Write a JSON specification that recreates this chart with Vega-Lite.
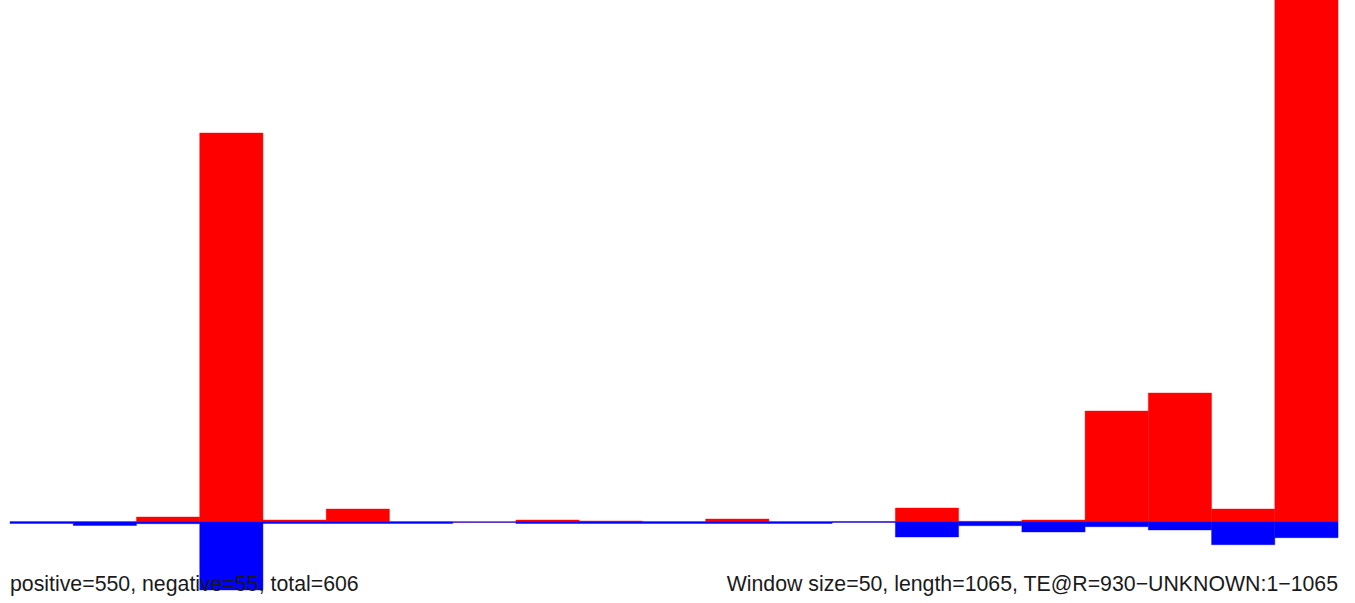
{
  "$schema": "https://vega.github.io/schema/vega-lite/v6.json",
  "width": 1355,
  "height": 603,
  "padding": 0,
  "autosize": {"type": "none"},
  "background": "white",
  "config": {"view": {"stroke": null}},
  "datasets": {
    "bars": [
      {"start": 0, "end": 50, "strand": "positive", "value": 0.3},
      {"start": 50, "end": 100, "strand": "positive", "value": 0.3},
      {"start": 100, "end": 150, "strand": "positive", "value": 5},
      {"start": 150, "end": 200, "strand": "positive", "value": 389},
      {"start": 200, "end": 250, "strand": "positive", "value": 2},
      {"start": 250, "end": 300, "strand": "positive", "value": 13},
      {"start": 300, "end": 350, "strand": "positive", "value": 0.3},
      {"start": 350, "end": 400, "strand": "positive", "value": 0},
      {"start": 400, "end": 450, "strand": "positive", "value": 2},
      {"start": 450, "end": 500, "strand": "positive", "value": 1},
      {"start": 500, "end": 550, "strand": "positive", "value": 0.3},
      {"start": 550, "end": 600, "strand": "positive", "value": 3},
      {"start": 600, "end": 650, "strand": "positive", "value": 0.3},
      {"start": 650, "end": 700, "strand": "positive", "value": 0.5},
      {"start": 700, "end": 750, "strand": "positive", "value": 14},
      {"start": 750, "end": 800, "strand": "positive", "value": 0.7},
      {"start": 800, "end": 850, "strand": "positive", "value": 2},
      {"start": 850, "end": 900, "strand": "positive", "value": 111},
      {"start": 900, "end": 950, "strand": "positive", "value": 129},
      {"start": 950, "end": 1000, "strand": "positive", "value": 13},
      {"start": 1000, "end": 1050, "strand": "positive", "value": 700},
      {"start": 0, "end": 50, "strand": "negative", "value": -1.5},
      {"start": 50, "end": 100, "strand": "negative", "value": -3.5},
      {"start": 100, "end": 150, "strand": "negative", "value": -1.7},
      {"start": 150, "end": 200, "strand": "negative", "value": -68},
      {"start": 200, "end": 250, "strand": "negative", "value": -1.5},
      {"start": 250, "end": 300, "strand": "negative", "value": -1.5},
      {"start": 300, "end": 350, "strand": "negative", "value": -1.5},
      {"start": 350, "end": 400, "strand": "negative", "value": -0.3},
      {"start": 400, "end": 450, "strand": "negative", "value": -1.5},
      {"start": 450, "end": 500, "strand": "negative", "value": -1.5},
      {"start": 500, "end": 550, "strand": "negative", "value": -1.5},
      {"start": 550, "end": 600, "strand": "negative", "value": -1.5},
      {"start": 600, "end": 650, "strand": "negative", "value": -1.5},
      {"start": 650, "end": 700, "strand": "negative", "value": -0.3},
      {"start": 700, "end": 750, "strand": "negative", "value": -15},
      {"start": 750, "end": 800, "strand": "negative", "value": -3.7},
      {"start": 800, "end": 850, "strand": "negative", "value": -10},
      {"start": 850, "end": 900, "strand": "negative", "value": -4.7},
      {"start": 900, "end": 950, "strand": "negative", "value": -8},
      {"start": 950, "end": 1000, "strand": "negative", "value": -22.7},
      {"start": 1000, "end": 1050, "strand": "negative", "value": -15.7}
    ],
    "labels": [
      {"x": 0, "y": -68.5, "text": "positive=550, negative=55, total=606", "side": "left"},
      {"x": 1050, "y": -68.5, "text": "Window size=50, length=1065, TE@R=930−UNKNOWN:1−1065", "side": "right"}
    ]
  },
  "layer": [
    {
      "data": {"values": [{"a": 0, "b": 1050, "y": 0}]},
      "mark": {"type": "rule", "color": "#a0a0a0", "strokeWidth": 1},
      "encoding": {
        "x": {"field": "a", "type": "quantitative", "scale": {"domain": [-7.9, 1063.4], "nice": false, "zero": false}, "axis": null},
        "x2": {"field": "b"},
        "y": {"field": "y", "type": "quantitative", "scale": {"domain": [-81, 522], "nice": false, "zero": false}, "axis": null}
      }
    },
    {
      "data": {"name": "bars"},
      "mark": {"type": "bar", "clip": true, "strokeWidth": 0.4},
      "encoding": {
        "x": {"field": "start", "type": "quantitative"},
        "x2": {"field": "end"},
        "y": {"field": "value", "type": "quantitative"},
        "y2": {"datum": 0},
        "color": {"field": "strand", "type": "nominal", "scale": {"domain": ["positive", "negative"], "range": ["#ff0000", "#0000ff"]}, "legend": null},
        "stroke": {"field": "strand", "type": "nominal", "scale": {"domain": ["positive", "negative"], "range": ["#ff0000", "#0000ff"]}, "legend": null}
      }
    },
    {
      "data": {"name": "labels"},
      "transform": [{"filter": "datum.side == 'left'"}],
      "mark": {"type": "text", "align": "left", "baseline": "alphabetic", "font": "Liberation Sans", "fontSize": 21.3, "color": "#1a1a1a"},
      "encoding": {
        "x": {"field": "x", "type": "quantitative"},
        "y": {"field": "y", "type": "quantitative"},
        "text": {"field": "text"}
      }
    },
    {
      "data": {"name": "labels"},
      "transform": [{"filter": "datum.side == 'right'"}],
      "mark": {"type": "text", "align": "right", "baseline": "alphabetic", "font": "Liberation Sans", "fontSize": 21.3, "color": "#1a1a1a"},
      "encoding": {
        "x": {"field": "x", "type": "quantitative"},
        "y": {"field": "y", "type": "quantitative"},
        "text": {"field": "text"}
      }
    }
  ]
}
